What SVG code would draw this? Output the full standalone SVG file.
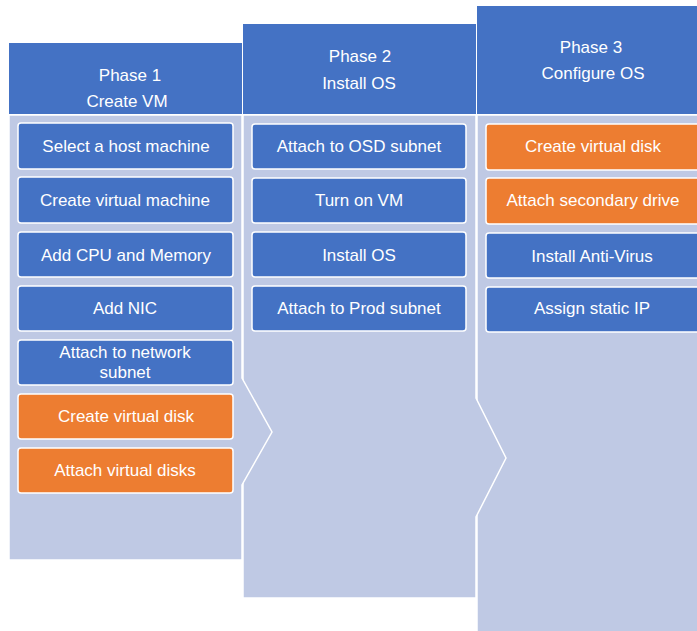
<svg xmlns="http://www.w3.org/2000/svg" width="697" height="631" viewBox="0 0 697 631">
  <style>
    .hdr { fill: #4472C4; }
    .body { fill: #BFC9E4; stroke: #FFFFFF; stroke-width: 1.5; }
    .blue { fill: #4472C4; stroke: #FFFFFF; stroke-width: 1.5; }
    .orange { fill: #ED7D31; stroke: #FFFFFF; stroke-width: 1.5; }
    text { font-family: "Liberation Sans", Arial, sans-serif; font-size: 17px; fill: #FFFFFF; text-anchor: middle; }
  </style>
  <rect width="697" height="631" fill="#FFFFFF"/>

  <!-- column bodies, back to front so each chevron overlaps the next column -->
  <g id="phase3-body">
    <polygon class="body" points="477,115 700,115 700,634 477,634"/>
  </g>
  <g id="phase2-body">
    <polygon class="body" points="243,115 476,115 476,398 506,458 476,517 476,598 243,598"/>
  </g>
  <g id="phase1-body">
    <polygon class="body" points="9,115 242,115 242,378 272,432 242,485 242,560 9,560"/>
  </g>

  <!-- column headers -->
  <g id="phase1-header">
    <rect class="hdr" x="9" y="43" width="233" height="71"/>
    <text x="130" y="81">Phase 1</text>
    <text x="127" y="107">Create VM</text>
  </g>
  <g id="phase2-header">
    <rect class="hdr" x="243" y="24" width="233" height="90"/>
    <text x="360" y="62">Phase 2</text>
    <text x="359" y="89">Install OS</text>
  </g>
  <g id="phase3-header">
    <rect class="hdr" x="477" y="6" width="223" height="108"/>
    <text x="591" y="53">Phase 3</text>
    <text x="593" y="79">Configure OS</text>
  </g>

  <!-- Phase 1 tasks -->
  <g id="p1-select-host">
    <rect class="blue" x="18" y="123" width="215" height="46" rx="3"/>
    <text x="126" y="152">Select a host machine</text>
  </g>
  <g id="p1-create-vm">
    <rect class="blue" x="18" y="177" width="215" height="46" rx="3"/>
    <text x="125" y="206">Create virtual machine</text>
  </g>
  <g id="p1-add-cpu">
    <rect class="blue" x="18" y="232" width="215" height="45" rx="3"/>
    <text x="126" y="261">Add CPU and Memory</text>
  </g>
  <g id="p1-add-nic">
    <rect class="blue" x="18" y="286" width="215" height="45" rx="3"/>
    <text x="125" y="314">Add NIC</text>
  </g>
  <g id="p1-attach-network">
    <rect class="blue" x="18" y="340" width="215" height="45" rx="3"/>
    <text x="125" y="358">Attach to network</text>
    <text x="125" y="378">subnet</text>
  </g>
  <g id="p1-create-disk">
    <rect class="orange" x="18" y="394" width="215" height="45" rx="3"/>
    <text x="126" y="422">Create virtual disk</text>
  </g>
  <g id="p1-attach-disks">
    <rect class="orange" x="18" y="448" width="215" height="45" rx="3"/>
    <text x="125" y="476">Attach virtual disks</text>
  </g>

  <!-- Phase 2 tasks -->
  <g id="p2-attach-osd">
    <rect class="blue" x="252" y="124" width="214" height="45" rx="3"/>
    <text x="359" y="152">Attach to OSD subnet</text>
  </g>
  <g id="p2-turn-on">
    <rect class="blue" x="252" y="178" width="214" height="45" rx="3"/>
    <text x="359" y="206">Turn on VM</text>
  </g>
  <g id="p2-install-os">
    <rect class="blue" x="252" y="232" width="214" height="45" rx="3"/>
    <text x="359" y="261">Install OS</text>
  </g>
  <g id="p2-attach-prod">
    <rect class="blue" x="252" y="286" width="214" height="45" rx="3"/>
    <text x="359" y="314">Attach to Prod subnet</text>
  </g>

  <!-- Phase 3 tasks -->
  <g id="p3-create-disk">
    <rect class="orange" x="486" y="124" width="215" height="46" rx="3"/>
    <text x="593" y="152">Create virtual disk</text>
  </g>
  <g id="p3-attach-drive">
    <rect class="orange" x="486" y="178" width="215" height="46" rx="3"/>
    <text x="593" y="206">Attach secondary drive</text>
  </g>
  <g id="p3-antivirus">
    <rect class="blue" x="486" y="233" width="215" height="45" rx="3"/>
    <text x="592" y="262">Install Anti-Virus</text>
  </g>
  <g id="p3-static-ip">
    <rect class="blue" x="486" y="287" width="215" height="45" rx="3"/>
    <text x="592" y="314">Assign static IP</text>
  </g>

  <g id="connectors"></g>
</svg>
